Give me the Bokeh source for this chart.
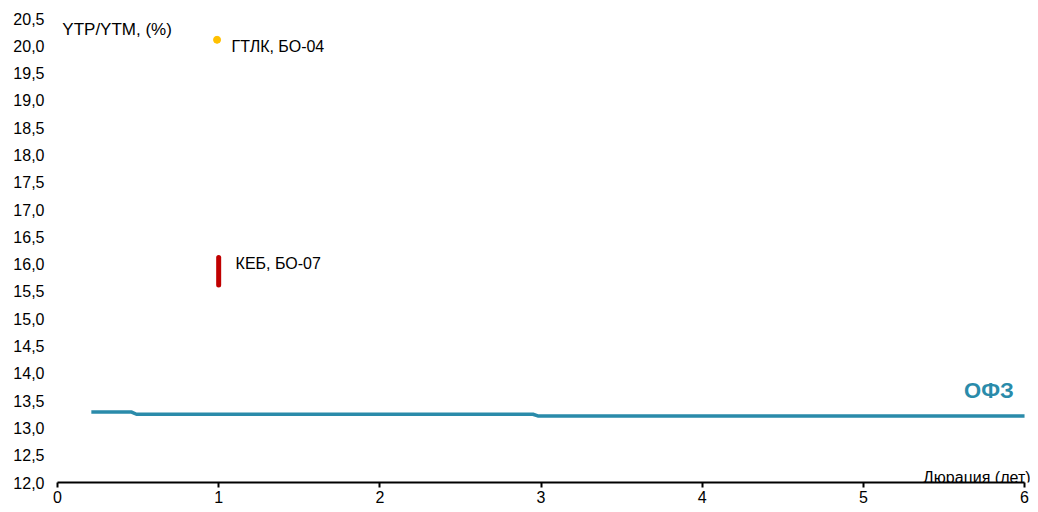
from bokeh.plotting import figure
from bokeh.models import Range1d, FixedTicker, CustomJSTickFormatter, Label
from bokeh.embed import file_html
from bokeh.resources import INLINE

# OFZ yield curve (duration in years, yield %)
ofz_duration = [0.21, 0.46, 0.49, 0.95, 1.70, 2.42, 2.95, 2.98, 3.15, 3.85, 4.60, 5.35, 6.00]
ofz_yield = [13.29, 13.29, 13.25, 13.25, 13.25, 13.25, 13.25, 13.22, 13.22, 13.22, 13.22, 13.22, 13.22]

# GTLK BO-04
gtlk_duration = [0.99]
gtlk_yield = [20.11]

# KEB BO-07 (YTP / YTM range)
keb_duration = 1.0
keb_low = 15.62
keb_high = 16.12

y_ticks = [12.0, 12.5, 13.0, 13.5, 14.0, 14.5, 15.0, 15.5, 16.0, 16.5, 17.0, 17.5,
           18.0, 18.5, 19.0, 19.5, 20.0, 20.5]
x_ticks = [0, 1, 2, 3, 4, 5, 6]

FONT = "Liberation Sans"
TEAL = "#2A8BAA"

p = figure(frame_width=973, frame_height=464, output_backend="svg", toolbar_location=None,
           x_range=Range1d(0, 6.037), y_range=Range1d(12, 20.5),
           min_border_left=57, min_border_top=18, min_border_right=0, min_border_bottom=24)
p.outline_line_color = None
p.xgrid.grid_line_color = None
p.ygrid.grid_line_color = None

# axes
p.yaxis.ticker = FixedTicker(ticks=y_ticks)
p.yaxis.formatter = CustomJSTickFormatter(code="return tick.toFixed(1).replace('.', ',');")
p.yaxis.axis_line_color = None
p.yaxis.major_tick_line_color = None
p.yaxis.minor_tick_line_color = None
p.yaxis.major_tick_in = 0
p.yaxis.major_tick_out = 0
p.yaxis.major_label_standoff = 13
p.yaxis.major_label_text_font = FONT
p.yaxis.major_label_text_font_size = "16px"
p.yaxis.major_label_text_color = "#000000"

p.xaxis.ticker = FixedTicker(ticks=x_ticks)
p.xaxis.bounds = (0, 6)
p.xaxis.axis_line_color = "#000000"
p.xaxis.axis_line_width = 2
p.xaxis.major_tick_line_color = "#000000"
p.xaxis.major_tick_line_width = 2
p.xaxis.major_tick_in = 0
p.xaxis.major_tick_out = 5
p.xaxis.minor_tick_line_color = None
p.xaxis.major_label_standoff = 3
p.xaxis.major_label_text_font = FONT
p.xaxis.major_label_text_font_size = "16px"
p.xaxis.major_label_text_color = "#000000"

# series
p.line(ofz_duration, ofz_yield, line_color=TEAL, line_width=3.5)
p.scatter(gtlk_duration, gtlk_yield, size=7, fill_color="#FFC000", line_color="#FFC000")
p.segment(x0=[keb_duration], y0=[keb_low], x1=[keb_duration], y1=[keb_high],
          line_color="#C00000", line_width=5, line_cap="round")

# labels
p.add_layout(Label(x=0.03, y=20.3, text="YTP/YTM, (%)", text_font=FONT, text_font_size="17px",
                   text_baseline="middle", text_color="#000000"))
p.add_layout(Label(x=1.08, y=19.985, text="ГТЛК, БО-04", text_font=FONT, text_font_size="16px",
                   text_baseline="middle", text_color="#000000"))
p.add_layout(Label(x=1.105, y=16.01, text="КЕБ, БО-07", text_font=FONT, text_font_size="16px",
                   text_baseline="middle", text_color="#000000"))
p.add_layout(Label(x=5.625, y=13.68, text="ОФЗ", text_font=FONT, text_font_size="22px",
                   text_font_style="bold", text_baseline="middle", text_color=TEAL))
p.add_layout(Label(x=6, y=12, x_offset=6, y_offset=5, text="Дюрация (лет)", text_font=FONT,
                   text_font_size="16px", text_align="right", text_baseline="alphabetic",
                   text_color="#000000"))

open("out.html", "w").write(file_html(p, INLINE))
